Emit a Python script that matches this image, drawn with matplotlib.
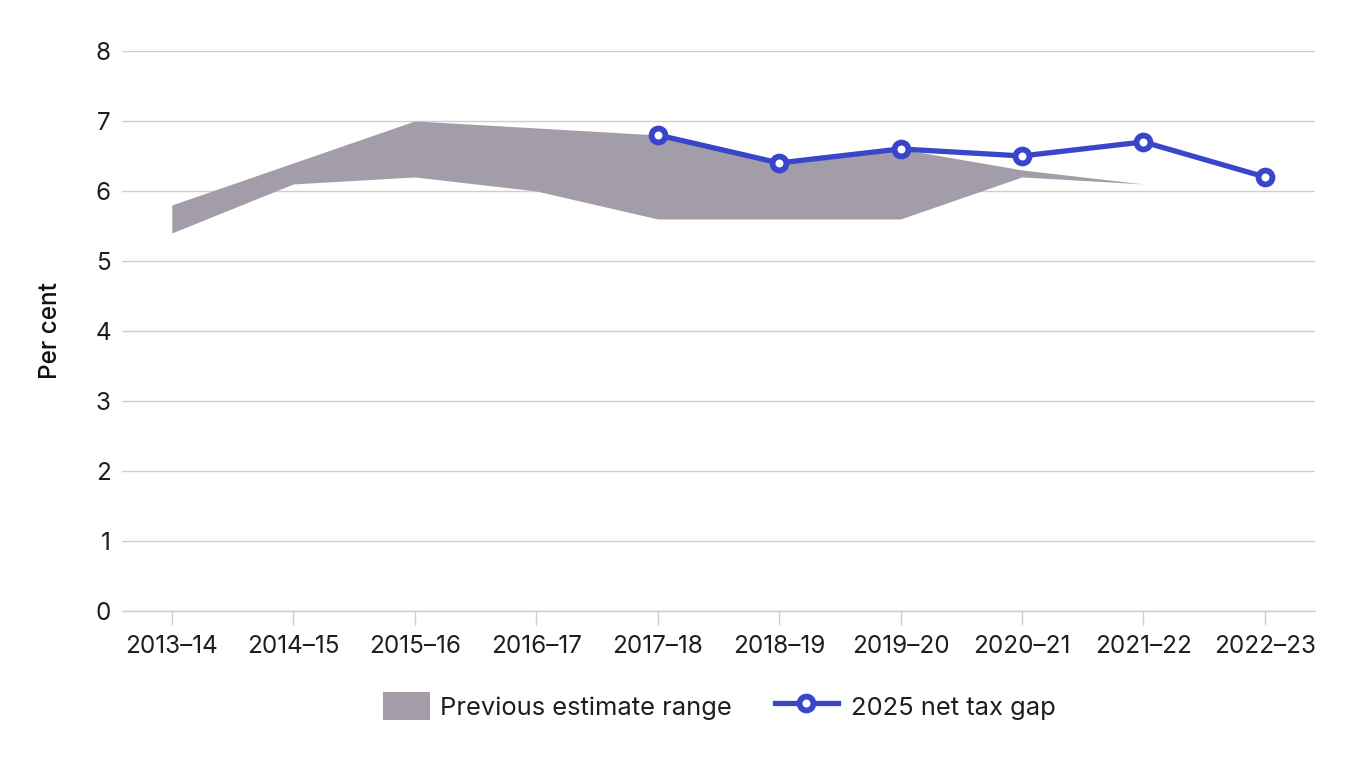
import matplotlib.pyplot as plt
from matplotlib.patches import Patch, Rectangle
from matplotlib.lines import Line2D
from matplotlib.legend_handler import HandlerPatch

plt.rcParams['font.family'] = ['Inter', 'DejaVu Sans']

years = ['2013–14', '2014–15', '2015–16', '2016–17', '2017–18',
         '2018–19', '2019–20', '2020–21', '2021–22', '2022–23']
# previous estimate range (upper / lower), up to 2021-22
range_upper = [5.8, 6.4, 7.0, 6.9, 6.8, 6.4, 6.6, 6.3, 6.1]
range_lower = [5.4, 6.1, 6.2, 6.0, 5.6, 5.6, 5.6, 6.2, 6.1]
# 2025 net tax gap, 2017-18 onwards
gap_years = years[4:]
gap_values = [6.8, 6.4, 6.6, 6.5, 6.7, 6.2]

fill_col = '#A29DA8'
line_col = '#3A46C9'
grid_col = '#CFCFCF'
txt_col = '#1E1E1E'

fig = plt.figure(figsize=(13.6, 7.6), dpi=100)
ax = fig.add_axes([0.0897, 0.196, 0.877, 0.737])

x = list(range(len(years)))
ax.fill_between(x[:len(range_upper)], range_lower, range_upper,
                color=fill_col, linewidth=0, zorder=2)
gx = [years.index(y) for y in gap_years]
ax.plot(gx, gap_values, color=line_col, lw=3.8, marker='o', ms=10,
        mfc='white', mec=line_col, mew=4.2, zorder=3, clip_on=False)

ax.set_xlim(-0.41, len(years) - 1 + 0.41)
ax.set_ylim(0, 8)
ax.set_yticks(range(0, 9))
ax.set_xticks(x)
ax.set_xticklabels(years)
ax.grid(axis='y', color=grid_col, lw=1, zorder=0)
ax.set_axisbelow(True)

for s in ['top', 'right', 'left']:
    ax.spines[s].set_visible(False)
ax.spines['bottom'].set_color(grid_col)
ax.spines['bottom'].set_linewidth(1)
ax.tick_params(axis='y', length=0, pad=8, labelsize=17.5, labelcolor=txt_col)
ax.tick_params(axis='x', length=10, color=grid_col, width=1, pad=7,
               labelsize=17.5, labelcolor=txt_col)
ax.set_ylabel('Per cent', fontsize=17.5, fontweight='medium', labelpad=24,
              color='#111111')


def small_box(legend, orig_handle, xdescent, ydescent, width, height, fontsize):
    # legend swatch narrower than the line handle, sitting close to its text
    w = width * 0.755
    return Rectangle((-xdescent + width - w + 2, -ydescent), w, height)


handles = [Patch(facecolor=fill_col, edgecolor='none'),
           Line2D([0], [0], color=line_col, lw=3.8, marker='o', ms=10,
                  mfc='white', mec=line_col, mew=4.2)]
leg = fig.legend(handles, ['Previous estimate range', '2025 net tax gap'],
                 loc='center', bbox_to_anchor=(0.522, 0.071), ncol=2,
                 frameon=False, prop={'size': 18.4},
                 handlelength=2.45, handleheight=1.3, columnspacing=1.7,
                 handletextpad=0.5,
                 handler_map={Patch: HandlerPatch(patch_func=small_box)})
for t in leg.get_texts():
    t.set_color(txt_col)

fig.savefig('out.png', dpi=100)
